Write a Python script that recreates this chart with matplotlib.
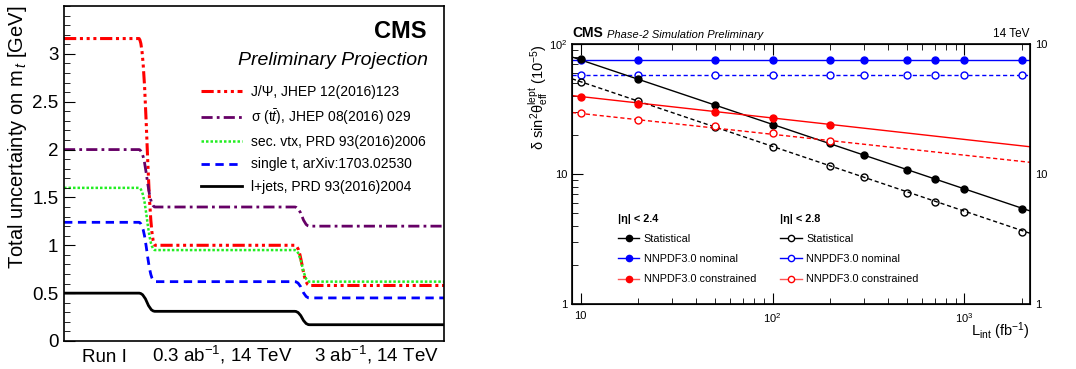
import matplotlib
matplotlib.use("Agg")
import matplotlib.pyplot as plt
from matplotlib.path import Path
from matplotlib.patches import PathPatch
from matplotlib.lines import Line2D
from matplotlib.ticker import FixedLocator, MultipleLocator, NullFormatter

plt.rcParams['font.family'] = ['Liberation Sans', 'DejaVu Sans']
plt.rcParams['mathtext.fontset'] = 'custom'
plt.rcParams['mathtext.rm'] = 'Liberation Sans'
plt.rcParams['mathtext.it'] = 'Liberation Sans:italic'
plt.rcParams['mathtext.bf'] = 'Liberation Sans:bold'

# ---- left panel: top mass uncertainty per scenario ----
scenarios = ["Run I", "0.3 ab$^{-1}$, 14 TeV", "3 ab$^{-1}$, 14 TeV"]
jpsi = [3.16, 1.00, 0.58]
xsec = [2.00, 1.40, 1.20]
secvtx = [1.60, 0.95, 0.62]
single_t = [1.24, 0.62, 0.45]
ljets = [0.50, 0.31, 0.17]
left_labels = ["J/Ψ, JHEP 12(2016)123", "σ (t$\\bar{t}$), JHEP 08(2016) 029",
               "sec. vtx, PRD 93(2016)2006", "single t, arXiv:1703.02530",
               "l+jets, PRD 93(2016)2004"]

# ---- right panel: sin2theta uncertainty vs lumi ----
lumi = [10, 20, 50, 100, 200, 300, 500, 700, 1000, 2000]
stat_24 = [76.0, 53.6, 34.0, 24.0, 17.2, 13.9, 10.8, 9.1, 7.6, 5.4]
stat_28 = [51.1, 36.3, 22.9, 16.2, 11.5, 9.4, 7.2, 6.1, 5.1, 3.6]
nom_24 = [75.4, 75.4, 75.4, 75.4, 75.4, 75.4, 75.4, 75.4, 75.4, 75.4]
nom_28 = [57.8, 57.8, 57.8, 57.8, 57.8, 57.8, 57.8, 57.8, 57.8, 57.8]
con_lumi = [10, 20, 50, 100, 200]
con_24 = [39.4, 34.7, 30.1, 27.0, 23.8]
con_28 = [29.2, 26.2, 23.2, 20.5, 17.8]
# fitted lines, read at the plot edges
line_x = [9, 2200]
stat_24_line = [79.4, 5.2]
stat_28_line = [54.0, 3.5]
nom_24_line = [75.4, 75.4]
nom_28_line = [57.8, 57.8]
con_24_line = [40.1, 16.2]
con_28_line = [29.7, 12.3]
right_labels = ["Statistical", "NNPDF3.0 nominal", "NNPDF3.0 constrained"]
xtick_vals = [10, 100, 1000]
xtick_txt = ["10", "$10^{2}$", "$10^{3}$"]
ytick_vals = [1, 10, 100]
ytick_txt = ["1", "10", "$10^{2}$"]
ytick_txt_right = ["1", "10", "10"]

fig = plt.figure(figsize=(10.76, 3.69), dpi=100)

# ================= left =================
ax1 = fig.add_axes([0.0595, 0.0759, 0.3531, 0.9078])
ax1.set_xlim(0, 3)
ax1.set_ylim(0, 3.5)


def step_path(v):
    # flat levels joined by smooth S-shaped drops
    t1, t2 = (0.59, 0.72), (1.82, 1.94)
    m1, m2 = sum(t1) / 2, sum(t2) / 2
    verts = [(0, v[0]), (t1[0], v[0]), (m1, v[0]), (m1, v[1]), (t1[1], v[1]),
             (t2[0], v[1]), (m2, v[1]), (m2, v[2]), (t2[1], v[2]), (3, v[2])]
    codes = [Path.MOVETO, Path.LINETO, Path.CURVE4, Path.CURVE4, Path.CURVE4,
             Path.LINETO, Path.CURVE4, Path.CURVE4, Path.CURVE4, Path.LINETO]
    return Path(verts, codes)


styles = [
    dict(color='#ff0000', lw=2.2, ls=(0, (4, 1.2, 1, 1.2, 1, 1.2, 1, 1.2))),
    dict(color='#660066', lw=2.0, ls=(0, (4, 1.5, 1, 1.5))),
    dict(color='#22ee22', lw=1.8, ls=(0, (1, 0.8))),
    dict(color='#0000ff', lw=2.0, ls=(0, (3, 2))),
    dict(color='#000000', lw=2.0, ls='-'),
]
handles = []
for vals, st in zip([jpsi, xsec, secvtx, single_t, ljets], styles):
    ax1.add_patch(PathPatch(step_path(vals), fill=False, edgecolor=st['color'],
                            lw=st['lw'], ls=st['ls'], capstyle='butt'))
    handles.append(Line2D([], [], color=st['color'], lw=st['lw'], ls=st['ls']))

ax1.legend(handles, left_labels, loc='upper left', bbox_to_anchor=(0.36, 0.765),
           frameon=False, fontsize=10, handlelength=3.0, handletextpad=0.6,
           labelspacing=0.6, borderpad=0, borderaxespad=0)

ax1.set_xticks([0.316, 1.25, 2.47])
ax1.set_xticklabels(scenarios, fontsize=13.5)
for lab in ax1.get_xticklabels():
    lab.set_verticalalignment('baseline')
ax1.tick_params(axis='x', length=0, pad=15)
ax1.yaxis.set_major_locator(MultipleLocator(0.5))
ax1.yaxis.set_minor_locator(MultipleLocator(0.1))
ax1.set_yticks([0, 0.5, 1, 1.5, 2, 2.5, 3])
ax1.set_yticklabels(["0", "0.5", "1", "1.5", "2", "2.5", "3"])
ax1.tick_params(axis='y', which='major', direction='in', length=8, labelsize=13.5, pad=4)
ax1.tick_params(axis='y', which='minor', direction='in', length=4)
ax1.set_ylabel("Total uncertainty on m$_{\\,t}$ [GeV]", fontsize=14.5, loc='top', labelpad=2)
for s in ax1.spines.values():
    s.set_linewidth(1.2)
ax1.text(0.955, 0.905, "CMS", transform=ax1.transAxes, ha='right', va='baseline',
         fontsize=17, fontweight='bold')
ax1.text(0.958, 0.825, "Preliminary Projection", transform=ax1.transAxes, ha='right',
         va='baseline', fontsize=14, style='italic')

# ================= right =================
ax2 = fig.add_axes([0.5316, 0.1762, 0.4256, 0.7046])
ax2.set_xscale('log')
ax2.set_yscale('log')
ax2.set_xlim(line_x[0], line_x[1])
ax2.set_ylim(1, 100)

ax2.plot(line_x, nom_24_line, color='#0000ff', lw=1)
ax2.plot(line_x, nom_28_line, color='#0000ff', lw=1, ls=(0, (3, 2)))
ax2.plot(line_x, stat_24_line, color='black', lw=1)
ax2.plot(line_x, stat_28_line, color='black', lw=1, ls=(0, (3, 2)))
ax2.plot(line_x, con_24_line, color='#ff0000', lw=1)
ax2.plot(line_x, con_28_line, color='#ff0000', lw=1, ls=(0, (3, 2)))

ms = 5
ax2.plot(lumi, nom_24, 'o', color='#0000ff', ms=ms, ls='none')
ax2.plot(lumi, nom_28, 'o', mfc='white', mec='#0000ff', ms=ms, mew=1, ls='none')
ax2.plot(lumi, stat_24, 'o', color='black', ms=ms, ls='none')
ax2.plot(lumi, stat_28, 'o', mfc='none', mec='black', ms=ms, mew=1, ls='none')
ax2.plot(con_lumi, con_24, 'o', color='#ff0000', ms=ms, ls='none')
ax2.plot(con_lumi, con_28, 'o', mfc='white', mec='#ff0000', ms=ms, mew=1, ls='none')

cols = ['black', '#0000ff', '#ff5555']
mcols = ['black', '#0000ff', '#ff0000']
h24 = [Line2D([], [], color=c, lw=1, marker='o', ms=4.5, mfc=m, mec=m)
       for c, m in zip(cols, mcols)]
h28 = [Line2D([], [], color=c, lw=1, marker='o', ms=4.5, mfc='white', mec=m, mew=1)
       for c, m in zip(cols, mcols)]
leg_kw = dict(frameon=False, fontsize=7.8, handlelength=2.0, handletextpad=0.4,
              labelspacing=0.95, borderpad=0, borderaxespad=0, alignment='left',
              title_fontproperties={'weight': 'bold', 'size': 7.8})
leg1 = ax2.legend(h24, right_labels, title="|η| < 2.4", loc='upper left',
                  bbox_to_anchor=(0.1, 0.348), **leg_kw)
ax2.add_artist(leg1)
ax2.legend(h28, right_labels, title="|η| < 2.8", loc='upper left',
           bbox_to_anchor=(0.455, 0.348), **leg_kw)

ax2.xaxis.set_major_locator(FixedLocator(xtick_vals))
ax2.set_xticklabels(xtick_txt)
ax2.yaxis.set_major_locator(FixedLocator(ytick_vals))
ax2.set_yticklabels(ytick_txt)
ax2.tick_params(which='major', direction='in', length=8, labelsize=8, top=True, right=True)
ax2.tick_params(which='minor', direction='in', length=4, top=True, right=True)
ax2.tick_params(axis='x', pad=5)
ax2.yaxis.set_minor_formatter(NullFormatter())
ax2.xaxis.set_minor_formatter(NullFormatter())
for s in ax2.spines.values():
    s.set_linewidth(1.2)

axr = ax2.twinx()
axr.set_yscale('log')
axr.set_ylim(1, 100)
axr.yaxis.set_major_locator(FixedLocator(ytick_vals))
axr.set_yticklabels(ytick_txt_right)
axr.yaxis.set_minor_formatter(NullFormatter())
axr.tick_params(which='both', length=0, labelsize=8, pad=4)

ax2.set_ylabel("δ sin$^{2}$θ$^{\\mathrm{lept}}_{\\mathrm{eff}}$ (10$^{-5}$)", fontsize=10.5,
               loc='top', labelpad=-1)
ax2.set_xlabel("L$_{\\mathrm{int}}$ (fb$^{-1}$)", fontsize=10.5, loc='right', labelpad=-3)
ax2.text(0.0, 1.015, "CMS", transform=ax2.transAxes, fontsize=10, fontweight='bold',
         ha='left', va='bottom')
ax2.text(0.077, 1.015, "Phase-2 Simulation Preliminary", transform=ax2.transAxes,
         fontsize=8, style='italic', ha='left', va='bottom')
ax2.text(1.0, 1.015, "14 TeV", transform=ax2.transAxes, fontsize=8.5, ha='right', va='bottom')

fig.savefig("out.png", dpi=100)
